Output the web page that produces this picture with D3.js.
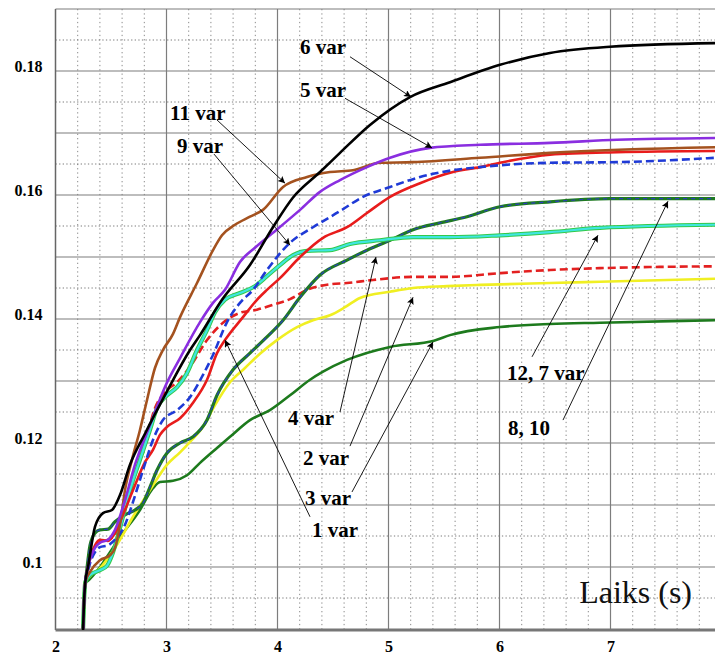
<!DOCTYPE html>
<html><head><meta charset="utf-8">
<script src="https://cdn.jsdelivr.net/npm/d3@7"></script>
<style>body{margin:0;background:#fff}svg{display:block;background:#fff}</style>
</head><body>
<svg id="chart" width="715" height="655"></svg>
<script>
// ---------- data ----------
const xTicks = [2, 3, 4, 5, 6, 7];
const xTickLabels = ["2", "3", "4", "5", "6", "7"];
const yTicks = [0.1, 0.12, 0.14, 0.16, 0.18];
const yTickLabels = ["0.1", "0.12", "0.14", "0.16", "0.18"];
const xTitle = "Laiks (s)";

// series: [time (s), value]
const var6 = [[2.245,0.088],[2.255,0.0935],[2.268,0.0975],[2.293,0.1],[2.356,0.1065],[2.428,0.1087],[2.509,0.1092],[2.581,0.1116],[2.671,0.1165],[2.806,0.1215],[2.995,0.128],[3.212,0.135],[3.302,0.1374],[3.5,0.1431],[3.752,0.1487],[3.959,0.1548],[4.14,0.1596],[4.383,0.1637],[4.563,0.1668],[4.833,0.1713],[5.194,0.1758],[5.554,0.1782],[6.005,0.181],[6.455,0.1829],[6.995,0.1839],[7.941,0.1845]];
const var5 = [[2.245,0.088],[2.255,0.0935],[2.268,0.0975],[2.293,0.1],[2.356,0.1031],[2.401,0.1039],[2.473,0.1044],[2.536,0.106],[2.626,0.1108],[2.716,0.1165],[2.851,0.1229],[2.995,0.1294],[3.122,0.1337],[3.302,0.1395],[3.419,0.1426],[3.527,0.1447],[3.662,0.1492],[3.797,0.1515],[3.959,0.1539],[4.203,0.1576],[4.383,0.1605],[4.563,0.1624],[4.806,0.1645],[5.014,0.166],[5.374,0.1676],[5.825,0.1681],[6.455,0.1684],[7.059,0.1689],[7.941,0.1692]];
const var11 = [[2.245,0.088],[2.255,0.0935],[2.268,0.0975],[2.311,0.0992],[2.401,0.1011],[2.491,0.1019],[2.536,0.1031],[2.581,0.1068],[2.626,0.1124],[2.689,0.1173],[2.761,0.1221],[2.824,0.1269],[2.896,0.1321],[2.968,0.135],[3.059,0.1376],[3.122,0.1403],[3.275,0.1458],[3.419,0.1511],[3.5,0.1535],[3.617,0.1552],[3.752,0.1565],[3.869,0.1576],[4.05,0.1613],[4.266,0.1629],[4.473,0.1637],[4.68,0.164],[4.923,0.1652],[5.221,0.1653],[5.825,0.166],[6.455,0.1668],[7.941,0.1677]];
const var1 = [[2.245,0.088],[2.255,0.0935],[2.268,0.0975],[2.293,0.1],[2.356,0.1035],[2.401,0.1044],[2.473,0.1042],[2.536,0.1055],[2.626,0.1092],[2.716,0.1132],[2.806,0.1169],[2.878,0.1189],[2.941,0.1213],[3.005,0.1226],[3.122,0.124],[3.239,0.1265],[3.365,0.1302],[3.455,0.1345],[3.527,0.1366],[3.689,0.1403],[3.815,0.1431],[3.905,0.1447],[4.022,0.1466],[4.203,0.15],[4.41,0.1531],[4.626,0.1548],[4.806,0.1571],[5.014,0.1597],[5.284,0.1619],[5.581,0.1637],[5.825,0.1645],[6.005,0.1652],[6.455,0.1665],[7.059,0.1669],[7.941,0.1671]];
const var9 = [[2.245,0.088],[2.255,0.0935],[2.268,0.0975],[2.293,0.0995],[2.356,0.1024],[2.401,0.1032],[2.473,0.1035],[2.536,0.1044],[2.626,0.1068],[2.689,0.11],[2.788,0.1156],[2.878,0.1205],[2.968,0.1237],[3.095,0.1253],[3.212,0.1274],[3.329,0.131],[3.419,0.1342],[3.545,0.1395],[3.662,0.1426],[3.779,0.1447],[3.905,0.1479],[4.113,0.1523],[4.32,0.1548],[4.563,0.1574],[4.77,0.1597],[5.014,0.1613],[5.284,0.1629],[5.581,0.164],[5.825,0.1645],[6.005,0.1648],[6.455,0.1652],[7.059,0.1653],[7.941,0.166]];
const var12and7 = [[2.245,0.088],[2.255,0.0935],[2.268,0.0975],[2.311,0.0987],[2.401,0.0995],[2.464,0.1002],[2.509,0.1019],[2.581,0.1063],[2.671,0.1124],[2.761,0.1173],[2.851,0.1221],[2.914,0.1256],[3.005,0.1277],[3.095,0.129],[3.185,0.1313],[3.275,0.135],[3.365,0.1382],[3.437,0.1411],[3.527,0.1431],[3.662,0.1442],[3.797,0.1453],[3.905,0.1469],[4.022,0.1487],[4.14,0.1503],[4.266,0.151],[4.473,0.1511],[4.653,0.1521],[4.923,0.1527],[5.221,0.1532],[5.554,0.1532],[6.005,0.1535],[6.455,0.154],[6.905,0.1547],[7.941,0.1552]];
const var8and10 = [[2.245,0.088],[2.255,0.0935],[2.268,0.0975],[2.275,0.0985],[2.311,0.1035],[2.356,0.1055],[2.401,0.106],[2.473,0.1061],[2.536,0.1073],[2.626,0.1084],[2.716,0.1092],[2.788,0.1103],[2.851,0.1129],[2.914,0.1156],[3.005,0.1184],[3.122,0.12],[3.239,0.121],[3.365,0.1237],[3.455,0.1277],[3.599,0.1318],[3.752,0.1345],[3.905,0.1371],[4.05,0.1398],[4.203,0.1435],[4.383,0.1471],[4.626,0.1495],[4.806,0.1511],[5.014,0.1527],[5.221,0.1544],[5.464,0.1555],[5.707,0.1565],[6.005,0.1581],[6.455,0.1589],[6.995,0.1594],[7.941,0.1594]];
const var4 = [[2.245,0.088],[2.255,0.0935],[2.268,0.0975],[2.293,0.0995],[2.356,0.1031],[2.401,0.104],[2.473,0.1044],[2.536,0.1052],[2.626,0.1092],[2.716,0.1148],[2.824,0.1213],[2.896,0.1256],[2.986,0.1282],[3.095,0.1298],[3.212,0.1323],[3.365,0.1366],[3.509,0.1394],[3.662,0.141],[3.815,0.1415],[3.959,0.1423],[4.113,0.1432],[4.266,0.1447],[4.473,0.1456],[4.626,0.1458],[4.86,0.1463],[5.221,0.1468],[5.554,0.1468],[6.005,0.1474],[6.455,0.1479],[6.905,0.1482],[7.941,0.1485]];
const var2 = [[2.245,0.088],[2.255,0.0935],[2.268,0.0975],[2.311,0.0985],[2.401,0.0998],[2.491,0.1019],[2.581,0.1044],[2.698,0.1081],[2.851,0.1124],[3.005,0.1165],[3.122,0.1185],[3.212,0.1202],[3.329,0.1226],[3.437,0.1261],[3.572,0.1298],[3.707,0.1321],[3.842,0.1344],[3.995,0.1366],[4.176,0.1387],[4.32,0.1398],[4.473,0.1406],[4.608,0.1419],[4.743,0.1434],[5.014,0.1444],[5.221,0.145],[5.527,0.1453],[5.825,0.1455],[6.455,0.1458],[6.905,0.146],[7.941,0.1465]];
const var3 = [[2.245,0.088],[2.255,0.0935],[2.268,0.0975],[2.293,0.0978],[2.356,0.099],[2.401,0.1],[2.491,0.1024],[2.581,0.1048],[2.761,0.1092],[2.878,0.1127],[2.941,0.1137],[3.059,0.1139],[3.185,0.1148],[3.302,0.1168],[3.455,0.1192],[3.572,0.121],[3.752,0.1237],[3.932,0.1253],[4.113,0.1277],[4.293,0.1302],[4.41,0.1315],[4.626,0.1334],[5.014,0.1355],[5.41,0.1365],[5.554,0.1374],[6.005,0.1387],[6.455,0.1392],[6.905,0.1394],[7.941,0.1398]];

// annotations: label position, leader start, arrow tip (data units)
const annLabels = ["6 var", "5 var", "11 var", "9 var", "4 var", "2 var", "3 var", "1 var", "12, 7 var", "8, 10"];
const annLabelPos = [[4.203,0.1827],[4.203,0.1758],[3.032,0.1721],[3.095,0.1668],[4.095,0.1229],[4.23,0.1165],[4.248,0.11],[4.311,0.1048],[6.068,0.1302],[6.077,0.1213]];
const annStart = [[4.653,0.1823],[4.608,0.1756],[3.455,0.1721],[3.428,0.1666],[4.563,0.125],[4.653,0.1195],[4.671,0.1121],[4.293,0.1081],[6.293,0.1339],[6.572,0.1237]];
const annTip = [[5.203,0.1758],[5.392,0.1676],[4.068,0.1619],[4.113,0.1519],[4.887,0.15],[5.221,0.1435],[5.401,0.1363],[3.527,0.1366],[6.887,0.1535],[7.518,0.159]];

// ---------- layout ----------
const W = 715, H = 655;
const L = 55.5, R = 715, T = 9, B = 630;
const x = d3.scaleLinear().domain([2, 7.9414]).range([L, R]);
const y = d3.scaleLinear().domain([0.08984, 0.19]).range([B, T]);

const svg = d3.select("#chart");
svg.append("rect").attr("width", W).attr("height", H).attr("fill", "#fff");

const defs = svg.append("defs");
defs.append("clipPath").attr("id", "clip").append("rect")
  .attr("x", L).attr("y", T).attr("width", R - L).attr("height", B - T);
defs.append("marker").attr("id", "arrow").attr("viewBox", "0 0 10 10")
  .attr("refX", 10).attr("refY", 5).attr("markerWidth", 10).attr("markerHeight", 7)
  .attr("markerUnits", "userSpaceOnUse").attr("orient", "auto")
  .append("path").attr("d", "M0,0 L10,5 L0,10 L2,5 Z").attr("fill", "#000");

// grid
const grid = svg.append("g");
const minorX = d3.range(2.2, 7.95, 0.2).filter(v => Math.abs(v - Math.round(v)) > 0.01);
const majorX = d3.range(3, 8, 1);
const minorY = d3.range(0.095, 0.19, 0.01);
const majorY = d3.range(0.10, 0.1901, 0.01);
grid.selectAll(".mx").data(minorX).join("line")
  .attr("x1", d => x(d)).attr("x2", d => x(d)).attr("y1", T).attr("y2", B)
  .attr("stroke", "#8a8a8a").attr("stroke-width", 1).attr("stroke-dasharray", "1.3,3");
grid.selectAll(".my").data(minorY).join("line")
  .attr("x1", L).attr("x2", R).attr("y1", d => y(d)).attr("y2", d => y(d))
  .attr("stroke", "#7a7a7a").attr("stroke-width", 1).attr("stroke-dasharray", "1.3,2.3");
grid.selectAll(".Mx").data(majorX).join("line")
  .attr("x1", d => x(d)).attr("x2", d => x(d)).attr("y1", T).attr("y2", B)
  .attr("stroke", "#7d7d7d").attr("stroke-width", 1.2);
grid.selectAll(".My").data(majorY).join("line")
  .attr("x1", L).attr("x2", R).attr("y1", d => y(d)).attr("y2", d => y(d))
  .attr("stroke", "#7d7d7d").attr("stroke-width", 1.2);
// frame
svg.append("line").attr("x1", L).attr("x2", L).attr("y1", T).attr("y2", B)
  .attr("stroke", "#666").attr("stroke-width", 1.5);
svg.append("line").attr("x1", L).attr("x2", R).attr("y1", B).attr("y2", B)
  .attr("stroke", "#777").attr("stroke-width", 3);

// axes
const fontSerif = "'Liberation Serif','Times New Roman',serif";
const yAxis = svg.append("g").attr("transform", `translate(${L},0)`)
  .call(d3.axisLeft(y).tickValues(yTicks).tickSize(0).tickPadding(13)
    .tickFormat((d, i) => yTickLabels[i]));
yAxis.select(".domain").remove();
yAxis.selectAll("text").attr("dy", "0.05em")
  .style("font-family", fontSerif).style("font-weight", "bold").style("font-size", "16px").attr("fill", "#000");

const xAxis = svg.append("g").attr("transform", `translate(0,${B})`)
  .call(d3.axisBottom(x).tickValues(xTicks).tickSize(0).tickPadding(0)
    .tickFormat((d, i) => xTickLabels[i]));
xAxis.select(".domain").remove();
xAxis.selectAll("text").attr("y", 22).attr("dy", 0)
  .style("font-family", fontSerif).style("font-weight", "bold").style("font-size", "16px").attr("fill", "#000");

// lines
const line = d3.line().x(d => x(d[0])).y(d => y(d[1])).curve(d3.curveMonotoneX);
const plot = svg.append("g").attr("clip-path", "url(#clip)");
const layers = [
  {data: var3, stroke: "#1d7a1d", w: 2.6},
  {data: var2, stroke: "#f0ef22", w: 2.6},
  {data: var4, stroke: "#e32020", w: 2.6, dash: "8,4"},
  {data: var8and10, stroke: "#1f7a22", w: 3.2},
  {data: var8and10, stroke: "#2c3cc0", w: 1.2, dash: "4,4"},
  {data: var12and7, stroke: "#34c94a", w: 4.2},
  {data: var12and7, stroke: "#3fe6e0", w: 2.2},
  {data: var1, stroke: "#e81c1c", w: 2.6},
  {data: var9, stroke: "#1f3ad6", w: 2.6, dash: "8,4"},
  {data: var11, stroke: "#a4521f", w: 2.6},
  {data: var5, stroke: "#8a2ee0", w: 2.6},
  {data: var6, stroke: "#000000", w: 2.6}
];
layers.forEach(s => {
  plot.append("path").datum(s.data).attr("d", line).attr("fill", "none")
    .attr("stroke", s.stroke).attr("stroke-width", s.w)
    .attr("stroke-dasharray", s.dash || null)
    .attr("stroke-linejoin", "round").attr("stroke-linecap", s.dash ? "butt" : "round");
});

// annotations
const ann = svg.append("g");
annLabels.forEach((t, i) => {
  ann.append("line")
    .attr("x1", x(annStart[i][0])).attr("y1", y(annStart[i][1]))
    .attr("x2", x(annTip[i][0])).attr("y2", y(annTip[i][1]))
    .attr("stroke", "#000").attr("stroke-width", 0.9).attr("marker-end", "url(#arrow)");
  ann.append("text").attr("x", x(annLabelPos[i][0])).attr("y", y(annLabelPos[i][1]))
    .text(t).style("font-family", fontSerif).style("font-weight", "bold")
    .style("font-size", "21px").attr("fill", "#000");
});

svg.append("text").attr("x", 692).attr("y", 603).attr("text-anchor", "end")
  .text(xTitle).style("font-family", fontSerif).style("font-size", "32px").attr("fill", "#111");
</script>
</body></html>
